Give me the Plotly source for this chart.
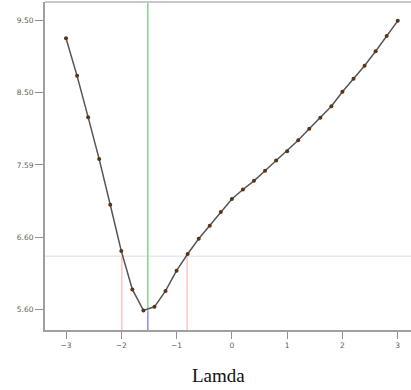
import plotly.graph_objects as go

lamda = [-3.0, -2.8, -2.6, -2.4, -2.2, -2.0, -1.8, -1.6, -1.4, -1.2, -1.0,
         -0.8, -0.6, -0.4, -0.2, 0.0, 0.2, 0.4, 0.6, 0.8, 1.0,
         1.2, 1.4, 1.6, 1.8, 2.0, 2.2, 2.4, 2.6, 2.8, 3.0]
loglik = [9.35, 8.83, 8.26, 7.68, 7.05, 6.41, 5.88, 5.59, 5.64, 5.86, 6.14,
          6.37, 6.58, 6.76, 6.95, 7.13, 7.26, 7.38, 7.52, 7.66, 7.79,
          7.94, 8.10, 8.25, 8.41, 8.61, 8.79, 8.97, 9.17, 9.38, 9.59]

y_tickvals = [5.6, 6.6, 7.6, 8.6, 9.6]
y_ticktext = ["5.60", "6.60", "7.59", "8.50", "9.50"]
x_tickvals = [-3, -2, -1, 0, 1, 2, 3]

best_lamda = -1.52
best_value = 5.58
ci_level = 6.34
ci_low = -1.99
ci_high = -0.81

y_min, y_max = 5.32, 9.85
x_min, x_max = -3.38, 3.24

fig = go.Figure()
fig.add_trace(go.Scatter(
    x=lamda, y=loglik, mode="lines+markers",
    line=dict(color="#555555", width=1.5),
    marker=dict(color="#5a3515", size=4),
    showlegend=False,
))

shapes = [
    dict(type="line", xref="x", yref="y", x0=x_min, x1=x_max, y0=ci_level, y1=ci_level,
         line=dict(color="#dcdcdc", width=1), layer="below"),
    dict(type="line", xref="x", yref="y", x0=ci_low, x1=ci_low, y0=y_min, y1=ci_level,
         line=dict(color="#ffc4c4", width=1.5), layer="below"),
    dict(type="line", xref="x", yref="y", x0=ci_high, x1=ci_high, y0=y_min, y1=ci_level,
         line=dict(color="#ffc4c4", width=1.5), layer="below"),
    dict(type="line", xref="x", yref="y", x0=best_lamda, x1=best_lamda, y0=best_value, y1=y_max,
         line=dict(color="#88d088", width=1.5), layer="below"),
    dict(type="line", xref="x", yref="y", x0=best_lamda, x1=best_lamda, y0=y_min, y1=best_value,
         line=dict(color="#8888ff", width=1.5), layer="below"),
    dict(type="line", xref="paper", yref="paper", x0=0, x1=1, y0=1, y1=1,
         line=dict(color="#c8c8c8", width=2)),
]

fig.update_layout(
    width=411, height=390,
    margin=dict(l=45, r=0, t=2, b=60),
    paper_bgcolor="white", plot_bgcolor="white",
    shapes=shapes,
    xaxis=dict(range=[x_min, x_max], tickvals=x_tickvals,
               showgrid=False, zeroline=False, showline=True, mirror=False,
               linecolor="#a0a0a0", linewidth=2,
               ticks="outside", ticklen=7, tickcolor="#909090", tickwidth=1,
               tickfont=dict(size=7.5, color="#606060", family="DejaVu Sans")),
    yaxis=dict(range=[y_min, y_max], tickvals=y_tickvals, ticktext=y_ticktext,
               showgrid=False, zeroline=False, showline=True,
               linecolor="#a0a0a0", linewidth=2,
               ticks="outside", ticklen=8, tickcolor="#909090", tickwidth=1,
               tickfont=dict(size=7.5, color="#606060", family="DejaVu Sans")),
    annotations=[dict(text="Lamda", xref="paper", yref="paper", x=0.473, y=-0.1,
                      yanchor="top", showarrow=False,
                      font=dict(family="Liberation Serif", size=19, color="#111111"))],
)

fig.write_html("out.html", config={"displayModeBar": False},
               post_script="document.body.style.margin='0';document.body.style.padding='0';")
